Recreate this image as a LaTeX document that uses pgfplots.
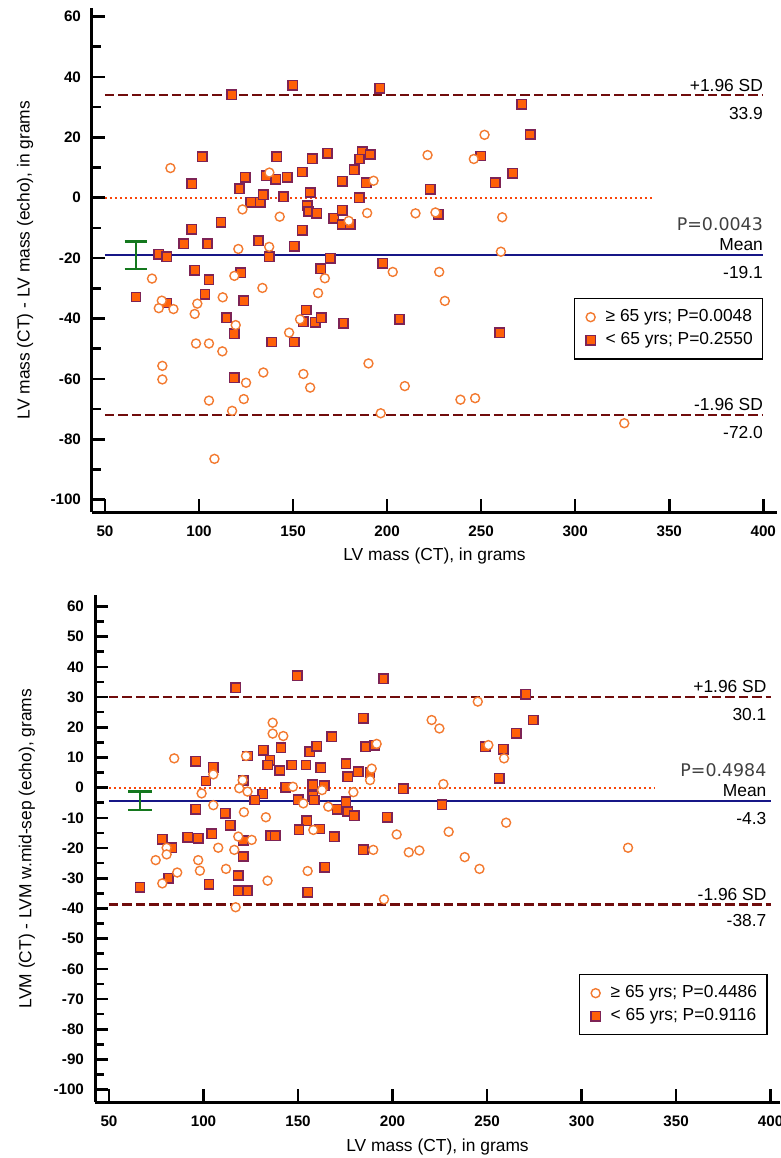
\documentclass[border=0pt]{standalone}
\usepackage{fontspec}
\setmainfont{Liberation Sans}
\newfontfamily\pfont{DejaVu Sans}
\usepackage{pgfplots}
\usepackage{pgfplotstable}
\pgfplotsset{compat=1.18}

\definecolor{sqfill}{RGB}{255,96,8}
\definecolor{sqdraw}{RGB}{125,35,85}
\definecolor{circ}{RGB}{243,122,48}
\definecolor{sdline}{RGB}{112,12,12}
\definecolor{meanline}{RGB}{22,22,135}
\definecolor{zeroline}{RGB}{250,70,10}
\definecolor{cigreen}{RGB}{20,120,30}

\newcommand\lab{\fontsize{8.7}{10.4}\selectfont}
\newcommand\tck{\fontsize{7.6}{9}\selectfont\bfseries}

% upper panel: LV mass (CT) - LV mass (echo)
\pgfplotstableread{
x y
117.4 34.1
149.8 37.2
196.0 36.2
101.8 13.5
141.3 13.5
160.3 12.9
168.3 14.7
186.7 15.2
191.0 14.3
185.3 12.8
182.5 9.2
96.1 4.6
124.5 6.8
121.5 3.0
135.7 7.2
140.8 6.1
147.0 6.7
154.8 8.5
176.1 5.4
188.9 5.0
127.5 -1.5
132.5 -1.5
134.2 1.0
144.9 0.3
159.1 1.7
185.1 0.0
157.6 -2.6
158.2 -4.6
162.6 -5.1
171.7 -6.8
176.1 -4.2
176.1 -8.9
180.3 -8.9
111.7 -8.2
96.1 -10.4
154.8 -10.8
91.9 -15.2
104.5 -15.2
131.6 -14.3
150.6 -16.1
78.6 -18.7
82.8 -19.6
137.3 -19.6
169.7 -20.1
197.7 -21.7
97.7 -24.1
164.7 -23.6
105.3 -27.2
122.2 -24.9
66.5 -32.9
82.8 -34.9
103.2 -32.0
123.8 -34.1
114.6 -39.8
118.8 -45.1
157.1 -37.2
155.5 -41.1
161.9 -41.3
164.9 -39.8
176.8 -41.6
138.7 -47.8
150.6 -47.8
118.8 -59.6
271.6 30.9
276.1 20.9
249.7 13.8
266.8 8.1
257.6 5.0
222.9 2.8
227.1 -5.5
206.6 -40.3
259.8 -44.7
}\topsq

\pgfplotstableread{
x y
84.8 9.8
137.4 8.3
192.8 5.6
123.1 -3.9
142.9 -6.3
179.6 -7.7
189.4 -5.1
120.9 -17.0
137.3 -16.3
75.0 -26.8
118.8 -25.9
166.9 -26.7
133.7 -29.9
163.3 -31.6
112.6 -33.0
80.2 -34.1
78.6 -36.6
86.4 -36.9
99.1 -35.1
97.7 -38.5
119.5 -42.2
153.7 -40.3
147.9 -44.7
98.4 -48.3
105.3 -48.3
112.4 -50.9
80.5 -55.7
80.5 -60.2
134.2 -57.9
155.5 -58.4
159.1 -62.9
125.0 -61.3
190.1 -54.9
105.3 -67.2
123.8 -66.7
117.6 -70.6
196.6 -71.4
108.2 -86.5
251.8 20.8
221.5 14.1
246.1 12.8
215.1 -5.2
225.7 -4.9
261.2 -6.5
260.5 -17.9
203.0 -24.6
227.7 -24.6
230.7 -34.2
209.4 -62.4
239.0 -66.9
246.8 -66.4
326.1 -74.7
}\topci

% lower panel: LVM (CT) - LVM w.mid-sep (echo)
\pgfplotstableread{
x y
117.0 33.1
149.5 37.0
195.2 36.1
184.5 23.0
96.0 8.8
105.2 6.8
101.3 2.2
123.5 10.5
131.6 12.4
141.0 13.2
135.2 9.1
133.9 7.5
140.3 5.7
146.6 7.5
154.2 7.5
156.3 11.9
159.9 13.7
167.8 16.8
162.0 6.6
175.4 7.9
176.3 3.6
181.9 5.3
185.8 13.6
190.7 14.1
188.1 5.0
121.1 2.5
131.3 -2.1
127.2 -4.1
143.6 0.1
150.2 -4.0
157.7 0.9
157.7 -2.6
158.6 -4.1
163.9 0.6
170.8 -7.1
175.4 -4.6
176.3 -7.9
179.8 -9.3
96.0 -7.1
111.5 -8.5
114.2 -12.4
154.6 -11.0
150.5 -14.0
161.6 -13.7
169.2 -16.3
135.5 -15.9
138.0 -15.9
78.2 -17.1
83.1 -19.9
91.6 -16.4
97.2 -16.8
104.3 -15.3
121.1 -17.5
121.1 -22.8
184.5 -20.6
118.4 -29.1
81.5 -30.0
66.4 -33.0
102.9 -32.0
118.4 -34.2
123.3 -34.2
155.1 -34.7
164.1 -26.4
270.5 30.9
274.5 22.4
265.5 18.0
249.0 13.6
258.6 12.7
256.4 3.1
205.7 -0.4
226.2 -5.7
197.3 -9.8
}\botsq

\pgfplotstableread{
x y
84.5 9.7
122.5 10.5
136.6 21.5
136.6 17.9
142.2 17.1
105.2 4.4
120.7 2.5
99.0 -1.9
118.9 -0.2
123.3 -1.3
147.3 0.3
162.7 -0.8
179.3 -1.5
189.0 6.3
188.1 2.5
105.2 -5.8
121.4 -8.1
133.0 -9.8
152.8 -5.2
166.0 -6.3
158.1 -14.0
118.4 -16.2
125.5 -17.3
80.5 -19.9
80.5 -22.1
74.7 -24.0
97.2 -24.0
107.8 -19.9
116.3 -20.6
98.1 -27.5
111.9 -26.9
86.1 -28.1
78.2 -31.7
133.9 -30.8
155.1 -27.6
117.0 -39.6
189.8 -20.6
195.5 -37.0
245.1 28.5
220.7 22.4
224.8 19.6
250.7 14.1
259.0 9.7
191.6 14.5
226.9 1.2
260.1 -11.6
202.2 -15.5
229.7 -14.6
208.6 -21.4
214.2 -20.8
238.2 -23.0
246.0 -26.9
324.6 -19.9
}\botci

\pgfplotsset{
  ba/.style={
    scale only axis,
    axis x line=bottom, axis y line=left,
    axis line style={-, line width=1.5pt},
    tick align=inside,
    major tick length=6.5pt, minor tick length=4.5pt,
    tick style={black, line width=1.3pt},
    xtick={50,100,...,400},
    minor y tick num=1,
    /pgf/number format/assume math mode=true,
    xticklabel style={font=\tck, yshift=-3.5pt},
    yticklabel style={font=\tck, xshift=-2pt},
    label style={font=\lab},
    xlabel={LV mass (CT), in grams},
    legend cell align=left,
    legend style={draw=black, line width=0.6pt, font=\lab, anchor=north east,
      inner xsep=3pt, inner ysep=3.5pt, row sep=0pt},
    legend image code/.code={
      \path[draw=none, fill=none] (0pt,0pt) -- (10.5pt,0pt);
      \draw[##1] plot coordinates {(5pt,0pt)};},
  },
  sqm/.style={only marks, mark=square*, mark size=2.35pt,
    mark options={fill=sqfill, draw=sqdraw, line width=0.75pt}},
  cim/.style={only marks, mark=*, mark size=2.25pt,
    mark options={fill=white, draw=circ, line width=0.7pt}},
  sd/.style={sdline, line width=1.2pt, dash pattern=on 4.7pt off 2pt, forget plot},
  mn/.style={meanline, line width=1pt, forget plot},
  zr/.style={zeroline, line width=1.1pt, dash pattern=on 1.2pt off 1.3pt, forget plot},
  ci/.style={cigreen, line width=1.1pt, forget plot},
}

\begin{document}
\begin{tikzpicture}
\useasboundingbox (0,0) rectangle (390.5pt,-579pt);

\begin{axis}[ba, at={(46pt,-256pt)}, anchor=south west,
  width=342.5pt, height=252pt,
  xmin=43.1, xmax=407.3, ymin=-104.1, ymax=62.8,
  ytick={-100,-80,...,60},
  ylabel={LV mass (CT) - LV mass (echo), in grams},
  ylabel style={at={(axis description cs:-0.0978,0.5)}, anchor=center},
  xlabel style={at={(axis description cs:0.5,-0.087)}, anchor=center},
  legend style={at={(axis description cs:0.98,0.4246)}},
]
\addlegendimage{cim}
\addlegendentry{≥ 65 yrs; P=0.0048}
\addlegendimage{sqm}
\addlegendentry{< 65 yrs; P=0.2550}
\addplot[zr] coordinates {(50,0) (341,0)};
\addplot[sd] coordinates {(50,33.9) (400,33.9)};
\addplot[sd] coordinates {(50,-72.0) (400,-72.0)};
\addplot[mn] coordinates {(50,-19.1) (400,-19.1)};
\addplot[ci] coordinates {(66.5,-23.7) (66.5,-14.5)};
\addplot[ci] coordinates {(60.4,-23.7) (72.6,-23.7)};
\addplot[ci] coordinates {(60.4,-14.5) (72.6,-14.5)};
\addplot[sqm, forget plot] table {\topsq};
\addplot[cim, forget plot] table {\topci};
\node[anchor=base east, inner sep=0, font=\lab, yshift=2pt] at (axis cs:400,33.9) {+1.96 SD};
\node[anchor=base east, inner sep=0, font=\lab, yshift=-12pt] at (axis cs:400,33.9) {33.9};
\node[anchor=base east, inner sep=0, font=\lab\pfont, text=black!75, yshift=12.5pt] at (axis cs:400,-19.1) {P=0.0043};
\node[anchor=base east, inner sep=0, font=\lab, yshift=2.5pt] at (axis cs:400,-19.1) {Mean};
\node[anchor=base east, inner sep=0, font=\lab, yshift=-11.5pt] at (axis cs:400,-19.1) {-19.1};
\node[anchor=base east, inner sep=0, font=\lab, yshift=2.5pt] at (axis cs:400,-72.0) {-1.96 SD};
\node[anchor=base east, inner sep=0, font=\lab, yshift=-11.5pt] at (axis cs:400,-72.0) {-72.0};
\end{axis}

\begin{axis}[ba, at={(47.5pt,-551pt)}, anchor=south west,
  width=342.5pt, height=253.5pt,
  xmin=42.6, xmax=405, ymin=-104.1, ymax=63.8,
  ytick={-100,-90,...,60},
  ylabel={LVM (CT) - LVM w.mid-sep (echo), grams},
  ylabel style={at={(axis description cs:-0.0993,0.5)}, anchor=center},
  xlabel style={at={(axis description cs:0.5,-0.0888)}, anchor=center},
  legend style={at={(axis description cs:0.982,0.2525)}},
]
\addlegendimage{cim}
\addlegendentry{≥ 65 yrs; P=0.4486}
\addlegendimage{sqm}
\addlegendentry{< 65 yrs; P=0.9116}
\addplot[zr] coordinates {(50,0) (339,0)};
\addplot[sd] coordinates {(50,30.1) (400,30.1)};
\addplot[sd] coordinates {(50,-38.7) (400,-38.7)};
\addplot[mn] coordinates {(50,-4.3) (400,-4.3)};
\addplot[ci] coordinates {(66.4,-7.3) (66.4,-1.3)};
\addplot[ci] coordinates {(60.2,-7.3) (72.6,-7.3)};
\addplot[ci] coordinates {(60.2,-1.3) (72.6,-1.3)};
\addplot[sqm, forget plot] table {\botsq};
\addplot[cim, forget plot] table {\botci};
\node[anchor=base east, inner sep=0, font=\lab, yshift=2.3pt] at (axis cs:398,30.1) {+1.96 SD};
\node[anchor=base east, inner sep=0, font=\lab, yshift=-12pt] at (axis cs:398,30.1) {30.1};
\node[anchor=base east, inner sep=0, font=\lab\pfont, text=black!75, yshift=12.2pt] at (axis cs:398,-4.3) {P=0.4984};
\node[anchor=base east, inner sep=0, font=\lab, yshift=2.2pt] at (axis cs:398,-4.3) {Mean};
\node[anchor=base east, inner sep=0, font=\lab, yshift=-11.8pt] at (axis cs:398,-4.3) {-4.3};
\node[anchor=base east, inner sep=0, font=\lab, yshift=2pt] at (axis cs:398,-38.7) {-1.96 SD};
\node[anchor=base east, inner sep=0, font=\lab, yshift=-11pt] at (axis cs:398,-38.7) {-38.7};
\end{axis}
\end{tikzpicture}
\end{document}
